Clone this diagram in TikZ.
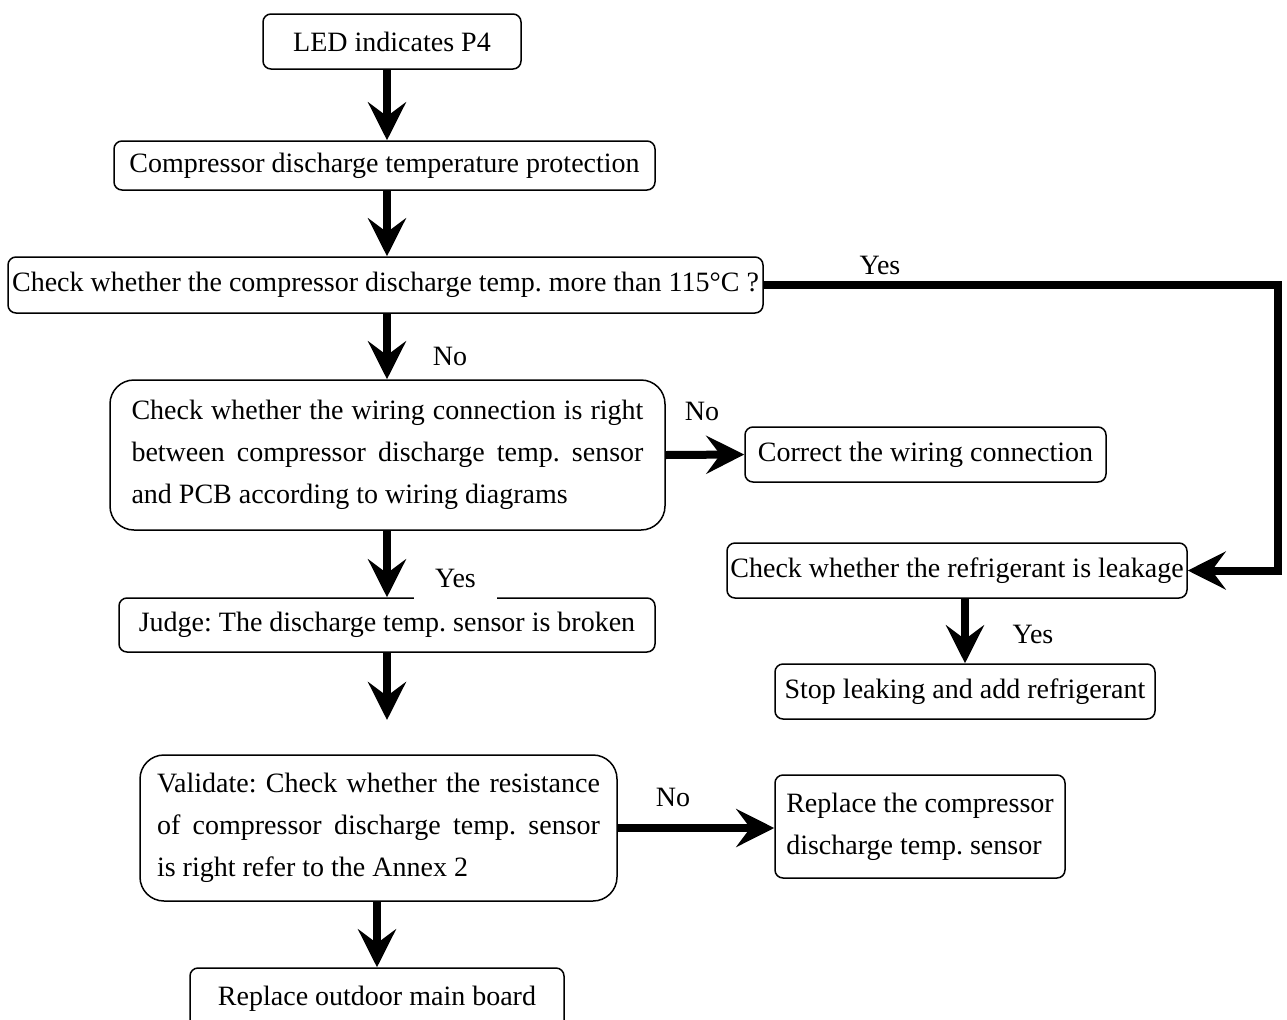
\documentclass[tikz,border=0pt]{standalone}
\usepackage{fontspec}
\setmainfont{Liberation Serif}
\usetikzlibrary{arrows.meta}
\frenchspacing

\begin{document}
\begin{tikzpicture}[x=0.5pt,y=-0.5pt,
    font=\fontsize{14}{21}\selectfont,
    box/.style={draw=black, line width=0.75pt, rounded corners=4pt, inner sep=0pt, align=center},
    bigbox/.style={box, rounded corners=12pt, align=justify},
    flow/.style={draw=black, line width=4pt, line join=miter, -{Stealth[length=19pt,width=19pt,inset=7pt]}},
    lbl/.style={inner sep=1pt}]
    \clip (0,0) rectangle (1287,1019);

    % main column
    \node[box, minimum width=129pt, minimum height=27.5pt] (led) at (392,41.5) {LED indicates P4};
    \node[box, minimum width=270.5pt, minimum height=24.5pt] (prot) at (384.5,165.5) {Compressor discharge temperature protection};
    \node[box, minimum width=377.5pt, minimum height=28pt] (chktemp) at (385.5,285) {Check whether the compressor discharge temp. more than 115°C ?};
    \node[bigbox, minimum width=277.5pt, minimum height=75pt, text width=256pt] (wiring) at (387.5,455)
        {Check whether the wiring connection is right\linebreak between compressor discharge temp. sensor\linebreak and PCB according to wiring diagrams};
    \node[box, minimum width=268pt, minimum height=27pt] (judge) at (387,625) {Judge: The discharge temp. sensor is broken};
    \coordinate (judgeend) at (387,720);
    \node[bigbox, minimum width=238.5pt, minimum height=73pt, text width=221.5pt] (valid) at (378.5,828)
        {Validate: Check whether the resistance\linebreak of compressor discharge temp. sensor\linebreak is right refer to the Annex 2};
    \node[box, minimum width=187pt, minimum height=31pt] (board) at (377,999) {Replace outdoor main board};

    % right side
    \node[box, minimum width=180.5pt, minimum height=27.5pt] (correct) at (925.5,454.5) {Correct the wiring connection};
    \node[box, minimum width=230pt, minimum height=27.5pt] (leak) at (957,570.5) {Check whether the refrigerant is leakage};
    \node[box, minimum width=190pt, minimum height=27.5pt] (stop) at (965,691.5) {Stop leaking and add refrigerant};
    \node[box, minimum width=145pt, minimum height=51.5pt, align=left] (repsens) at (920,826.5)
        {Replace the compressor\\discharge temp. sensor};
    \coordinate (yesturn) at (1278,570.5);

    % connectors
    \draw[flow] (led.south -| 387,0) -- (prot.north -| 387,0);
    \draw[flow] (prot.south -| 387,0) -- (chktemp.north -| 387,0);
    \draw[flow] (chktemp.south -| 387,0) -- (wiring.north -| 387,0);
    \draw[flow] (wiring.east) -- (correct.west);
    \draw[flow] (wiring.south -| 387,0) -- (judge.north -| 387,0);
    \draw[flow] (judge.south -| 387,0) -- (judgeend);
    \draw[flow] (valid.south -| board.north) -- (board.north);
    \draw[flow] (valid.east) -- (valid.east -| repsens.west);
    \draw[flow] (chktemp.east) -| (yesturn) -- (leak.east);
    \draw[flow] (leak.south -| stop.north) -- (stop.north);

    % labels
    \node[lbl] (lyes1) at (880,265) {Yes};
    \node[lbl] (lno1) at (450,356) {No};
    \node[lbl] (lno2) at (702,411) {No};
    \node[lbl, fill=white, minimum width=41.5pt, minimum height=22pt] (lyes2) at (455.5,578) {Yes};
    \node[lbl] (lyes3) at (1033,634) {Yes};
    \node[lbl] (lno3) at (673,797) {No};
\end{tikzpicture}
\end{document}
